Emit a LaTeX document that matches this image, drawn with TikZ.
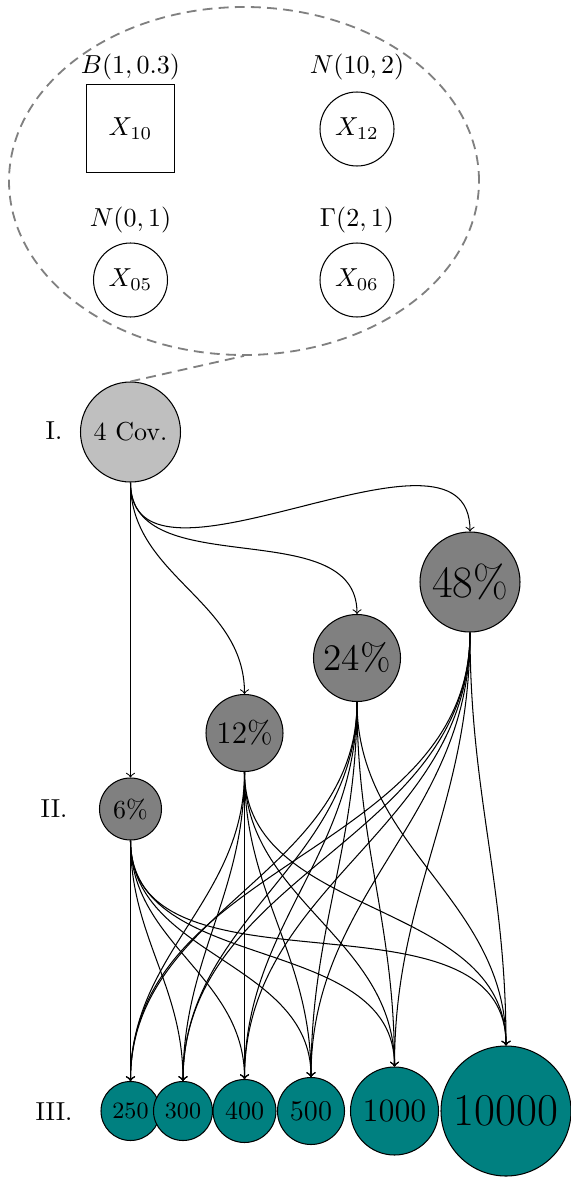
\documentclass[tikz,border=0pt]{standalone}
\usetikzlibrary{shapes.geometric}
\newlength\pxu
\setlength\pxu{0.384615pt}
\begin{document}
\begin{tikzpicture}[x=\pxu, y=-\pxu,
  lvlone/.style={circle, draw, fill=gray!50, inner sep=0pt},
  lvltwo/.style={circle, draw, fill=gray, inner sep=0pt},
  lvlthree/.style={circle, draw, fill=teal, inner sep=0pt},
  varc/.style={circle, draw, minimum size=74\pxu, inner sep=0pt},
  vars/.style={rectangle, draw, minimum size=88\pxu, inner sep=0pt},
  conn/.style={->, out=-90, in=90},
  grpline/.style={draw=gray, dash pattern=on 3.8pt off 2.4pt, line width=0.7pt},
  grp/.style={ellipse, grpline, minimum width=470\pxu, minimum height=348\pxu}]
\useasboundingbox (0,0) rectangle (571,1178);
% group of covariates
\node[grp] (ell) at (244,181) {};
\node[vars] (x10) at (130.5,128.5) {$X_{10}$};
\node[varc] (x12) at (357,129) {$X_{12}$};
\node[varc] (x05) at (130.5,280) {$X_{05}$};
\node[varc] (x06) at (357,280) {$X_{06}$};
\node (lx10) at (130.5,67) {$B(1,0.3)$};
\node (lx12) at (357,67) {$N(10,2)$};
\node (lx05) at (130.5,220) {$N(0,1)$};
\node (lx06) at (357,220) {$\Gamma(2,1)$};
% row labels
\node (r1) at (54,431) {I.};
\node (r2) at (54,809) {II.};
\node (r3) at (54,1112) {III.};
% level I
\node[lvlone, minimum size=100\pxu] (cov) at (130.5,432) {4 Cov.};
\draw[grpline] (cov.north) -- (ell.south);
% level II
\node[lvltwo, minimum size=62\pxu] (p6) at (130.5,809) {6\%};
\node[lvltwo, minimum size=77\pxu] (p12) at (244.5,733) {\large 12\%};
\node[lvltwo, minimum size=87\pxu] (p24) at (357,658) {\Large 24\%};
\node[lvltwo, minimum size=100\pxu] (p48) at (470,582) {\LARGE 48\%};
% level III
\node[lvlthree, minimum size=59\pxu] (t250) at (130.5,1111) {\fontsize{9}{11}\selectfont 250};
\node[lvlthree, minimum size=59\pxu] (t300) at (183,1111) {\fontsize{9}{11}\selectfont 300};
\node[lvlthree, minimum size=63\pxu] (t400) at (244.5,1111) {400};
\node[lvlthree, minimum size=67\pxu] (t500) at (311,1111) {\fontsize{11}{13}\selectfont 500};
\node[lvlthree, minimum size=88\pxu] (t1000) at (394.5,1111) {\fontsize{12.5}{15}\selectfont 1000};
\node[lvlthree, minimum size=130\pxu] (t10000) at (506,1111) {\fontsize{17.5}{21}\selectfont 10000};
% connectors I -> II
\foreach \b in {p6,p12,p24,p48}
  \draw[conn] (cov.south) to (\b.north);
% connectors II -> III
\foreach \a in {p6,p12,p24,p48}
  \foreach \b in {t250,t300,t400,t500,t1000,t10000}
    \draw[conn] (\a.south) to (\b.north);
\end{tikzpicture}
\end{document}
